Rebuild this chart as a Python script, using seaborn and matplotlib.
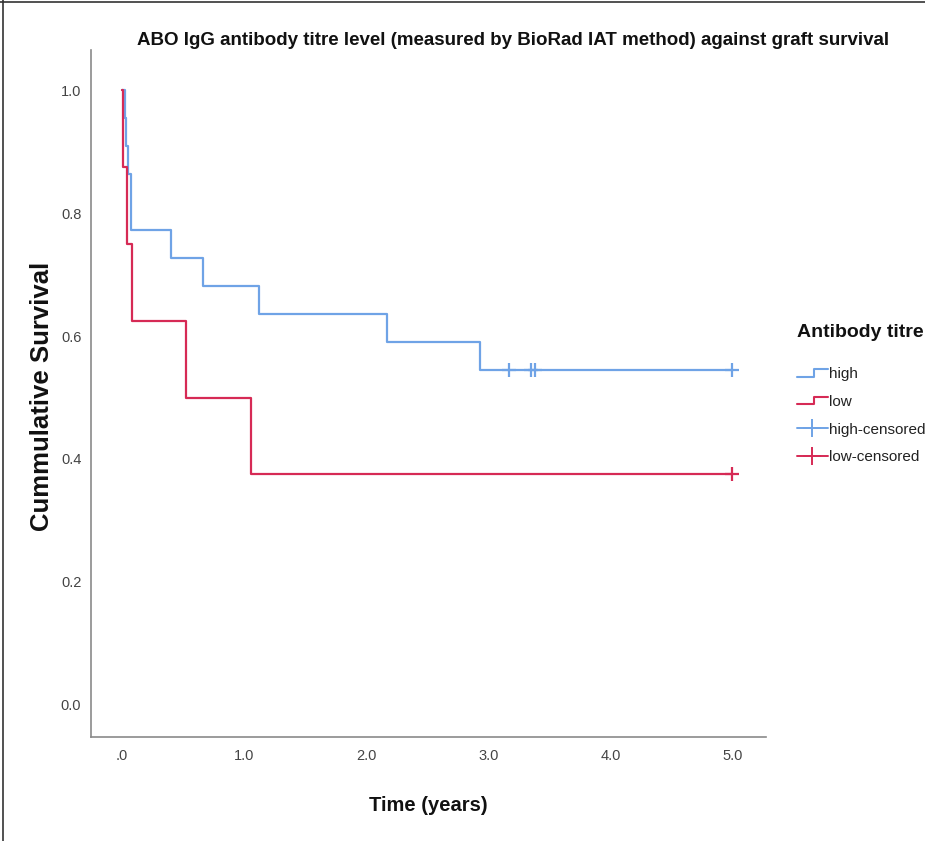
import numpy as np
import pandas as pd
import matplotlib
matplotlib.use("Agg")
import matplotlib.pyplot as plt
from matplotlib.lines import Line2D
from matplotlib.legend_handler import HandlerBase
import seaborn as sns

# ---- data ----
high_times = [0.0, 0.02, 0.035, 0.05, 0.075, 0.40, 0.665, 1.12, 2.17, 2.93, 5.0]
high_surv = [1.0, 0.955, 0.909, 0.864, 0.773, 0.727, 0.682, 0.636, 0.591, 0.545, 0.545]
high_censor_times = [3.17, 3.35, 3.38, 5.0]
high_censor_surv = [0.545, 0.545, 0.545, 0.545]

low_times = [0.0, 0.01, 0.04, 0.08, 0.52, 1.06, 5.0]
low_surv = [1.0, 0.875, 0.75, 0.625, 0.5, 0.375, 0.375]
low_censor_times = [5.0]
low_censor_surv = [0.375]

x_ticks = [0, 1, 2, 3, 4, 5]
x_ticklabels = [".0", "1.0", "2.0", "3.0", "4.0", "5.0"]
y_ticks = [0.0, 0.2, 0.4, 0.6, 0.8, 1.0]
y_ticklabels = ["0.0", "0.2", "0.4", "0.6", "0.8", "1.0"]

BLUE = "#6FA3E6"
RED = "#D62A55"

sns.set_theme(style="white")
FONT = ["Liberation Sans", "DejaVu Sans"]
plt.rcParams["font.family"] = FONT

curves = pd.concat([
    pd.DataFrame({"time": high_times, "surv": high_surv, "group": "high"}),
    pd.DataFrame({"time": low_times, "surv": low_surv, "group": "low"}),
])
cens = pd.concat([
    pd.DataFrame({"time": high_censor_times, "surv": high_censor_surv, "group": "high"}),
    pd.DataFrame({"time": low_censor_times, "surv": low_censor_surv, "group": "low"}),
])

fig = plt.figure(figsize=(9.25, 8.41), dpi=100)
ax = fig.add_axes([0.0984, 0.1237, 0.8286 - 0.0984, 0.9405 - 0.1237])

palette = {"high": BLUE, "low": RED}
sns.lineplot(data=curves, x="time", y="surv", hue="group", palette=palette,
             drawstyle="steps-post", linewidth=1.6, estimator=None, sort=False,
             legend=False, ax=ax)
for g in ["high", "low"]:
    sub = cens[cens["group"] == g]
    sns.scatterplot(data=sub, x="time", y="surv", color=palette[g], marker="+",
                    s=90, linewidth=1.6, legend=False, ax=ax, zorder=3)

ax.set_xlim(-0.2545, 5.279)
ax.set_ylim(-0.052, 1.065)
ax.set_xticks(x_ticks)
ax.set_xticklabels(x_ticklabels)
ax.set_yticks(y_ticks)
ax.set_yticklabels(y_ticklabels)
ax.tick_params(axis="both", length=0, labelsize=10.5, labelcolor="#444444")
ax.tick_params(axis="y", pad=7)
ax.tick_params(axis="x", pad=9)

for s in ["top", "right"]:
    ax.spines[s].set_visible(False)
for s in ["left", "bottom"]:
    ax.spines[s].set_color("#8a8a8a")
    ax.spines[s].set_linewidth(1.2)

ax.set_xlabel("Time (years)", fontsize=14.5, fontweight="bold", color="#111111")
ax.xaxis.set_label_coords(0.5, -0.1)
ax.xaxis.label.set_va("center")
ax.set_ylabel("Cummulative Survival", fontsize=18.5, fontweight="bold", color="#111111")
ax.yaxis.set_label_coords(-0.072, 0.496)
ax.yaxis.label.set_va("center")
fig.text(0.5546, 0.9524, "ABO IgG antibody titre level (measured by BioRad IAT method) against graft survival",
         ha="center", va="center", fontsize=13.5, fontweight="bold", color="#111111")


class StepHandler(HandlerBase):
    def create_artists(self, legend, orig_handle, xdescent, ydescent, width, height,
                       fontsize, trans):
        xs = np.array([0, width * 0.55, width * 0.55, width]) - xdescent
        ys = np.array([height * 0.15, height * 0.15, height * 0.85, height * 0.85]) - ydescent
        ln = Line2D(xs, ys, color=orig_handle.get_color(), lw=1.5, transform=trans)
        return [ln]


h_high = Line2D([], [], color=BLUE)
h_low = Line2D([], [], color=RED)
h_hc = Line2D([], [], color=BLUE, lw=1.4, marker="+", markersize=13, markeredgewidth=1.4)
h_lc = Line2D([], [], color=RED, lw=1.4, marker="+", markersize=13, markeredgewidth=1.4)

leg = fig.legend([h_high, h_low, h_hc, h_lc], ["high", "low", "high-censored", "low-censored"],
                 handler_map={h_high: StepHandler(), h_low: StepHandler()},
                 loc="upper left", bbox_to_anchor=(0.8616, 0.615), frameon=False,
                 title="Antibody titre", borderpad=0, borderaxespad=0,
                 handlelength=2.0, handletextpad=0.12, labelspacing=0.9, numpoints=1,
                 prop={"family": FONT, "size": 11})
leg.get_title().set_fontsize(14)
leg.get_title().set_fontweight("bold")
leg.get_title().set_color("#111111")
for t in leg.get_texts():
    t.set_color("#222222")
leg._legend_box.align = "left"
leg._legend_box.sep = 19

# screenshot frame
fig.add_artist(Line2D([0, 1], [0.9975, 0.9975], transform=fig.transFigure, color="#333333", lw=1.2))
fig.add_artist(Line2D([0.0035, 0.0035], [0, 1], transform=fig.transFigure, color="#333333", lw=1.2))

fig.savefig("out.png", dpi=100, facecolor="white")
